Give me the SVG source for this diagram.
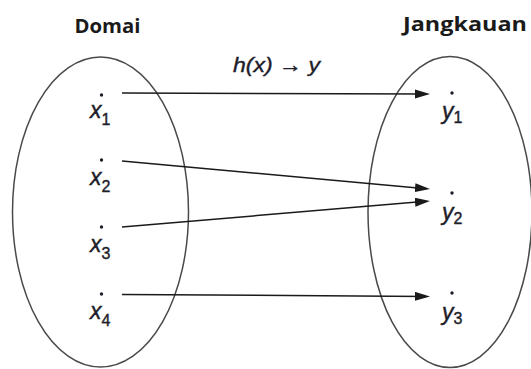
<svg xmlns="http://www.w3.org/2000/svg" width="531" height="369" viewBox="0 0 531 369">
<style>
.set{fill:none;stroke:#4a4a4a;stroke-width:1.5}
.title{font-family:"Open Sans","Liberation Sans",sans-serif;font-weight:bold;font-size:19.5px;fill:#1a1a1a}
.var{font-family:"Liberation Sans",Arial,sans-serif;font-style:italic;font-size:23px;fill:#1e1e2a;stroke:#1e1e2a;stroke-width:0.4}
.sub{font-style:normal;font-size:16px}
.pt{fill:#1e1e2a}
.conn{stroke:#1a1a1a;stroke-width:1.5;fill:none;marker-end:url(#ah)}
.fn{font-family:"Liberation Sans",Arial,sans-serif;font-style:italic;font-size:21px;fill:#1e1e2a;stroke:#1e1e2a;stroke-width:0.4}
</style>
<defs>
<marker id="ah" markerUnits="userSpaceOnUse" markerWidth="16" markerHeight="10" refX="11" refY="4.5" orient="auto">
<path d="M0,0 L15,4.5 L0,9 z" fill="#1a1a1a"/>
</marker>
</defs>
<rect width="531" height="369" fill="#ffffff"/>
<g id="domain">
<ellipse class="set" cx="100.5" cy="212" rx="88" ry="155"/>
<text class="title" x="74.5" y="33" textLength="66" lengthAdjust="spacingAndGlyphs">Domai</text>
</g>
<g id="range">
<ellipse class="set" cx="450" cy="212" rx="82" ry="155.5"/>
<text class="title" x="403" y="31" textLength="124" lengthAdjust="spacingAndGlyphs">Jangkauan</text>
</g>
<g id="x1"><circle class="pt" cx="101.5" cy="95" r="1.7"/><text class="var" x="90" y="117.5">x<tspan class="sub" dy="7">1</tspan></text></g>
<g id="x2"><circle class="pt" cx="101.5" cy="160" r="1.7"/><text class="var" x="90" y="184.5">x<tspan class="sub" dy="7">2</tspan></text></g>
<g id="x3"><circle class="pt" cx="101.5" cy="227" r="1.7"/><text class="var" x="90" y="251.5">x<tspan class="sub" dy="7">3</tspan></text></g>
<g id="x4"><circle class="pt" cx="101.5" cy="294" r="1.7"/><text class="var" x="90" y="318.5">x<tspan class="sub" dy="7">4</tspan></text></g>
<g id="y1"><circle class="pt" cx="452" cy="93" r="1.7"/><text class="var" x="442" y="118.5">y<tspan class="sub" dy="4.5">1</tspan></text></g>
<g id="y2"><circle class="pt" cx="452" cy="193" r="1.7"/><text class="var" x="442" y="219.5">y<tspan class="sub" dy="4.5">2</tspan></text></g>
<g id="y3"><circle class="pt" cx="452" cy="293" r="1.7"/><text class="var" x="442" y="319.5">y<tspan class="sub" dy="4.5">3</tspan></text></g>
<g id="label"><text class="fn" x="233" y="72" textLength="87" lengthAdjust="spacingAndGlyphs">h(x) → y</text></g>
<g id="connectors">
<line class="conn" x1="122" y1="93" x2="426" y2="94"/>
<line class="conn" x1="122" y1="161" x2="426" y2="188.64"/>
<line class="conn" x1="122" y1="227" x2="426" y2="201.34"/>
<line class="conn" x1="122" y1="294.5" x2="426" y2="296.4"/>
</g>
</svg>
